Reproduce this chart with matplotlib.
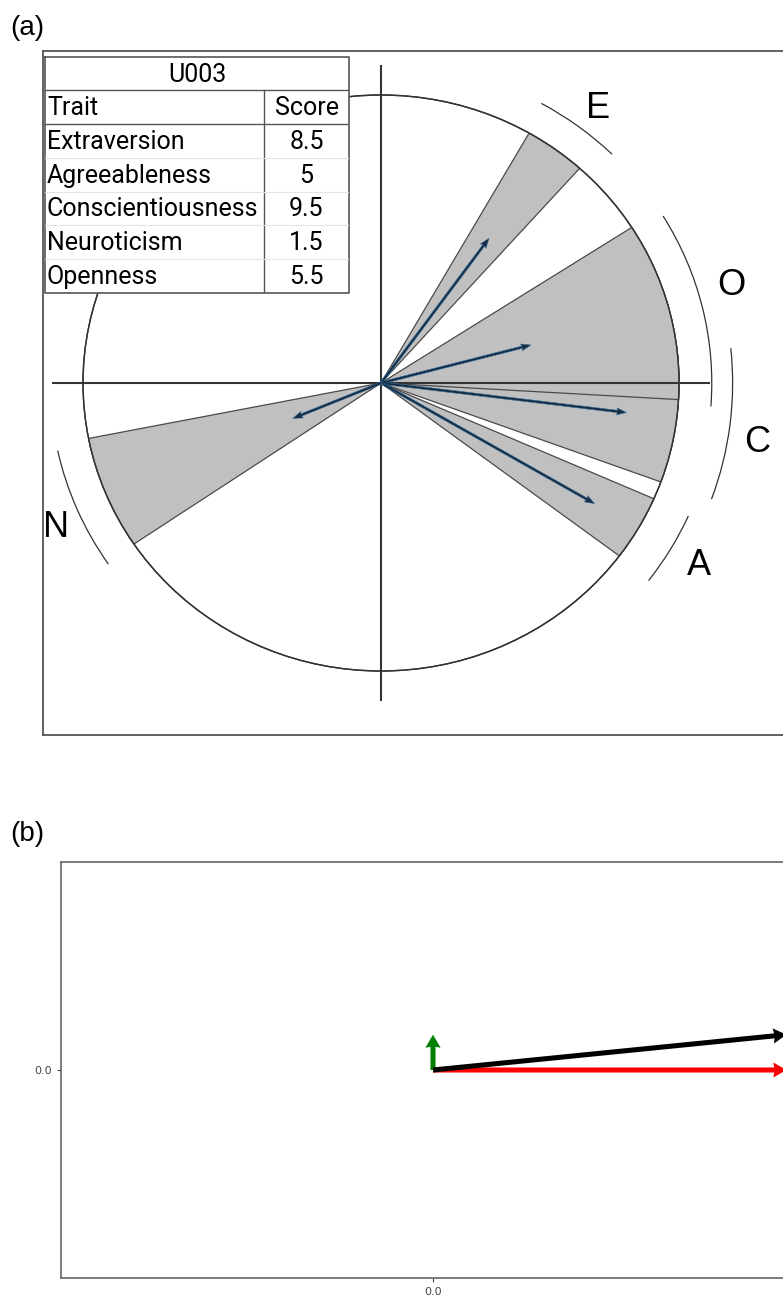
import numpy as np
import matplotlib
matplotlib.use("Agg")
import matplotlib.pyplot as plt
from matplotlib.patches import Wedge, Circle, Arc, Rectangle

# ---- trait profile for user U003 ----
user_id = "U003"
traits = ["Extraversion", "Agreeableness", "Conscientiousness", "Neuroticism", "Openness"]
codes = ["E", "A", "C", "N", "O"]
scores = [8.5, 5, 9.5, 1.5, 5.5]

# sector span of each trait (degrees) and resultant vector length
sector_start = [48.2, -36.9, -20.1, 191.1, -3.3]
sector_end = [60.2, -23.7, 5.9, 214.0, 32.7]
vector_len = [0.62, 0.83, 0.83, 0.32, 0.52]

# outer bracket arcs and letter placement
arc_radius = [1.11, 1.13, 1.18, 1.11, 1.11]
arc_start = [45.7, -37.4, -20.0, 192.2, -4.2]
arc_end = [61.0, -24.1, 5.9, 214.5, 31.5]
label_radius = [1.20, 1.24, 1.28, 1.20, 1.225]
label_angle = [52.7, -30.7, -9.3, 204.8, 16.1]

# ---- panel (b): decomposition of the combined vector ----
comp_names = ["x", "y", "sum"]
comp_u = [0.95, 0.0, 0.95]
comp_v = [0.0, 0.17, 0.17]
comp_colors = ["red", "green", "black"]

W, H = 783, 1304
fig = plt.figure(figsize=(W / 100, H / 100), dpi=100)


def px_axes(left, top, right, bottom):
    return fig.add_axes([left / W, 1 - bottom / H, (right - left) / W, (bottom - top) / H])


# ================= panel (a) =================
cx, cy, sx, sy = 381, 383, 298, 288  # centre pixel and px per unit
ax = px_axes(43, 51, 828, 735)
ax.set_xlim(-(cx - 43) / sx, (828 - cx) / sx)
ax.set_ylim(-(735 - cy) / sy, (cy - 51) / sy)
ax.set_xticks([])
ax.set_yticks([])
for s in ax.spines.values():
    s.set_color("#555555")
    s.set_linewidth(1.3)

ax.add_patch(Circle((0, 0), 1.0, facecolor="white", edgecolor="#333333", lw=1.0, zorder=1))
for a0, a1 in zip(sector_start, sector_end):
    ax.add_patch(Wedge((0, 0), 1.0, a0, a1, facecolor="#c0c0c0",
                       edgecolor="#4a4a4a", lw=0.9, zorder=2))
ax.add_patch(Circle((0, 0), 1.0, fill=False, edgecolor="#333333", lw=1.0, zorder=3))

ax.plot([-1.1, 1.1], [0, 0], color="#333333", lw=1.5, zorder=4)
ax.plot([0, 0], [-1.1, 1.1], color="#333333", lw=1.5, zorder=4)

mid = np.radians((np.array(sector_start) + np.array(sector_end)) / 2)
vl = np.array(vector_len)
ax.quiver(np.zeros(5), np.zeros(5), vl * np.cos(mid), vl * np.sin(mid),
          angles="xy", scale_units="xy", scale=1, width=0.003,
          headwidth=3.0, headlength=4.2, headaxislength=3.8,
          color="#172c42", edgecolor="#2f6d9c", linewidth=0.4, zorder=5)

for code, r, a0, a1, lr, la in zip(codes, arc_radius, arc_start, arc_end, label_radius, label_angle):
    ax.add_patch(Arc((0, 0), 2 * r, 2 * r, theta1=a0, theta2=a1, color="#333333", lw=0.9))
    t = np.radians(la)
    ax.text(lr * np.cos(t), lr * np.sin(t), code, fontsize=26, family="Liberation Sans",
            ha="center", va="center")

# trait table
tl, tt, tr, tb = 45, 57, 349, 293
tax = px_axes(tl, tt, tr, tb)
tw, th = tr - tl, tb - tt
tax.set_xlim(0, tw)
tax.set_ylim(th, 0)
tax.axis("off")
tax.add_patch(Rectangle((0, 0), tw, th, facecolor="white", edgecolor="none"))
title_h, head_h = 33, 34
row_h = (th - title_h - head_h) / len(traits)
col_x = 219
dark = "#555555"
tax.plot([0, tw, tw, 0, 0], [0, 0, th, th, 0], color=dark, lw=1.2, clip_on=False)
tax.plot([0, tw], [title_h, title_h], color=dark, lw=1.0)
tax.plot([0, tw], [title_h + head_h, title_h + head_h], color=dark, lw=1.0)
tax.plot([col_x, col_x], [title_h, th], color=dark, lw=1.0)
for i in range(1, len(traits)):
    y = title_h + head_h + i * row_h
    tax.plot([0, tw], [y, y], color="#e4e4e4", lw=0.8)

tfont = dict(family="Roboto", fontsize=18)
tax.text(tw / 2, title_h / 2 + 1, user_id, ha="center", va="center", **tfont)
tax.text(2, title_h + head_h / 2 + 1, "Trait", ha="left", va="center", **tfont)
tax.text((col_x + tw) / 2, title_h + head_h / 2 + 1, "Score", ha="center", va="center", **tfont)
for i, (name, sc) in enumerate(zip(traits, scores)):
    y = title_h + head_h + (i + 0.5) * row_h + 1
    tax.text(2, y, name, ha="left", va="center", **tfont)
    tax.text((col_x + tw) / 2, y, f"{sc:g}", ha="center", va="center", **tfont)

# ================= panel (b) =================
bx = px_axes(61, 862, 805, 1278)
bx.set_xlim(-1, 1)
bx.set_ylim(-1, 1)
bx.set_xticks([0])
bx.set_yticks([0])
bx.set_xticklabels(["0.0"])
bx.set_yticklabels(["0.0"])
bx.tick_params(labelsize=8, colors="#444444", length=3, width=0.8)
for s in bx.spines.values():
    s.set_color("#666666")
    s.set_linewidth(1.2)
for u, v, c in zip(comp_u, comp_v, comp_colors):
    bx.quiver(0, 0, u, v, angles="xy", scale_units="xy", scale=1, color=c,
              width=0.0068, headwidth=3, headlength=2.6, headaxislength=2.4)

fig.text(10 / W, 1 - 28 / H, "(a)", fontsize=20, family="Liberation Sans", va="center")
fig.text(10 / W, 1 - 834 / H, "(b)", fontsize=20, family="Liberation Sans", va="center")

fig.savefig("out.png", dpi=100)
